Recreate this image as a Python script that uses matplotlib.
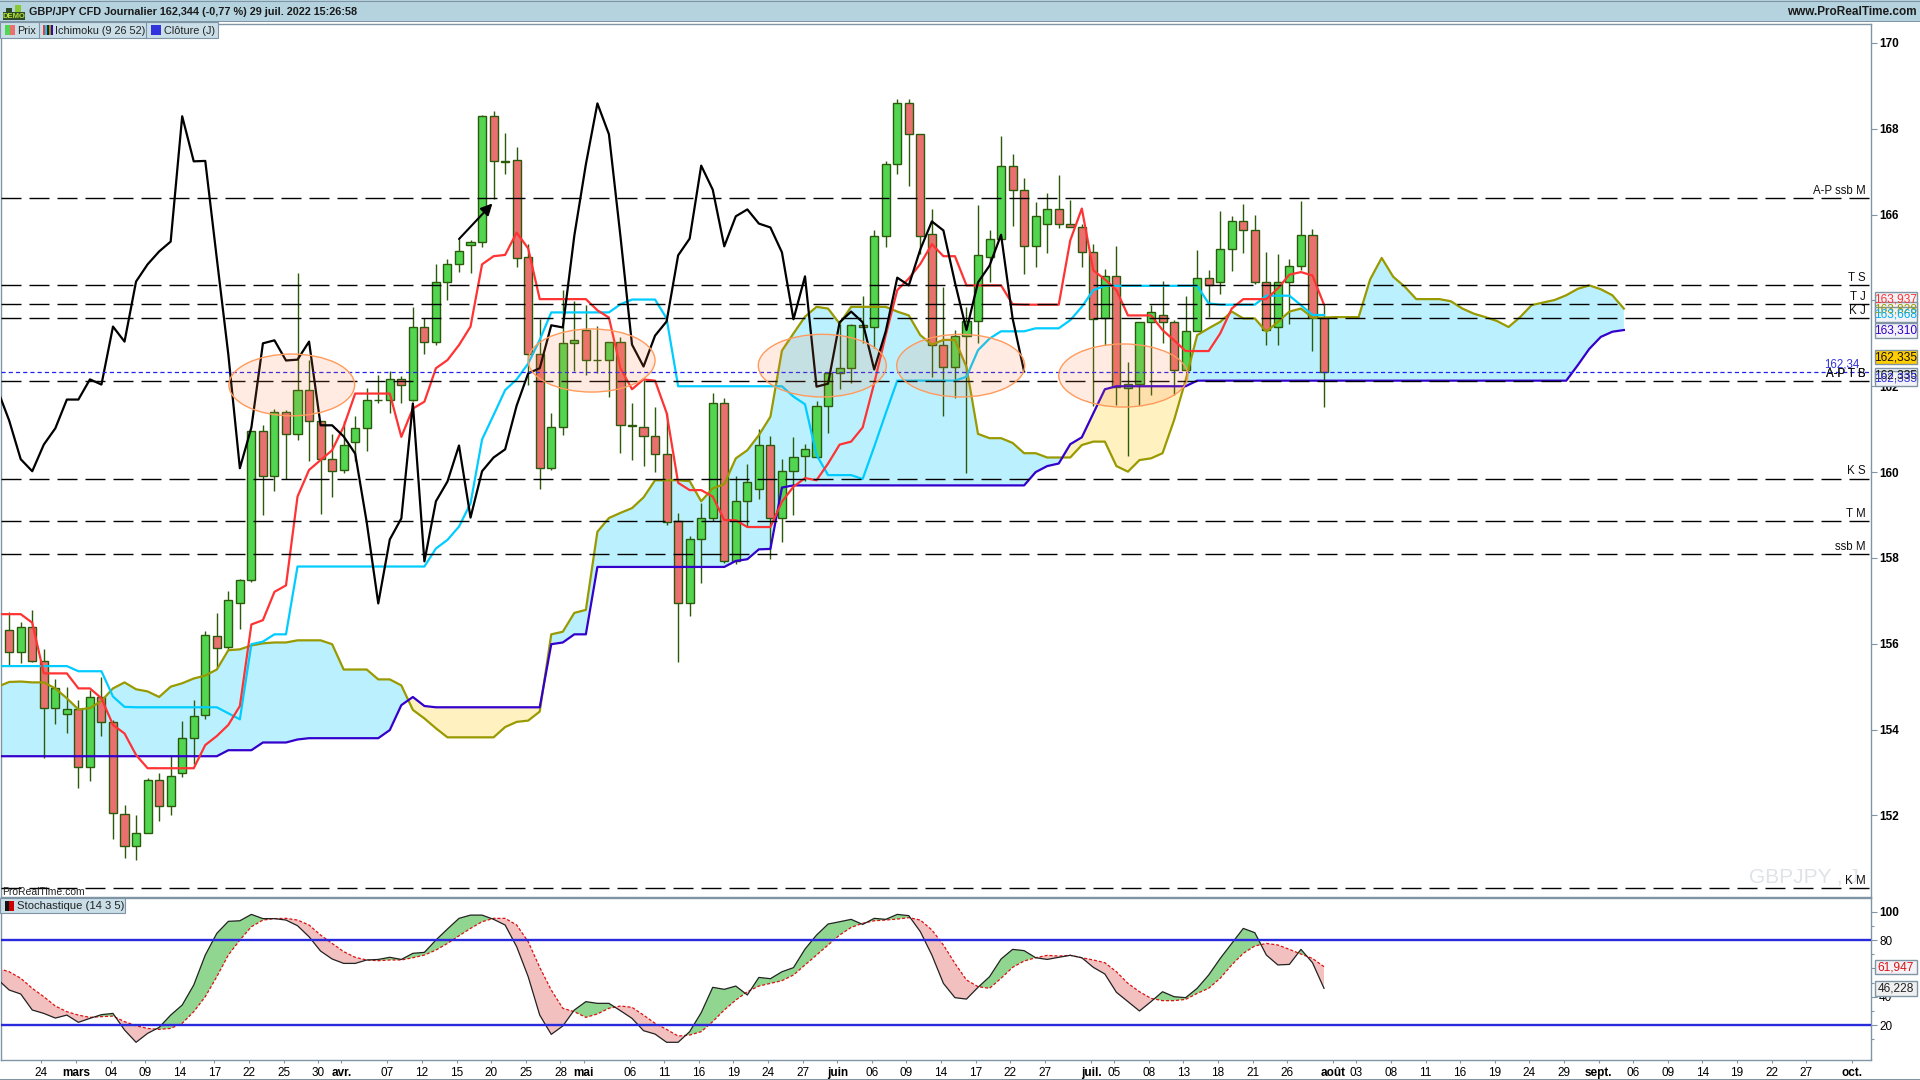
import numpy as np
import matplotlib
matplotlib.use('Agg')
import matplotlib.pyplot as plt
from matplotlib.patches import Ellipse, Rectangle

plt.rcParams['font.family'] = ['Liberation Sans', 'DejaVu Sans']
plt.rcParams['lines.scale_dashes'] = False

# daily candles, 21 feb -> 29 juil 2022 (bar index = weekdays)
opens = [156.31, 155.80, 156.38, 155.61, 154.50, 154.36, 154.47, 153.14, 154.75, 154.17,
         152.03, 151.28, 151.58, 152.82, 152.21, 153.00, 153.80, 154.33, 156.17, 155.92,
         156.96, 157.48, 160.95, 159.92, 161.41, 160.88, 161.91, 161.18, 160.30, 160.04,
         160.71, 161.02, 161.67, 161.69, 162.16, 161.69, 163.39, 163.04, 164.44, 164.84,
         165.30, 165.37, 168.29, 167.23, 167.26, 165.00, 162.74, 160.09, 161.04, 163.00,
         163.32, 162.60, 162.62, 163.04, 161.07, 161.06, 160.83, 160.43, 158.85, 156.94,
         158.43, 158.92, 161.60, 157.92, 159.32, 159.60, 160.62, 158.92, 160.02, 160.37,
         160.34, 161.55, 162.30, 162.42, 163.42, 163.39, 165.51, 167.17, 168.59, 167.87,
         165.54, 162.97, 162.46, 163.18, 163.51, 165.00, 165.44, 167.14, 166.58, 165.26,
         165.77, 166.12, 165.79, 165.70, 165.12, 163.60, 164.56, 161.97, 162.06, 163.49,
         163.65, 163.49, 162.39, 163.28, 164.53, 164.42, 165.19, 165.84, 165.63, 164.42,
         163.39, 164.42, 164.81, 165.53, 163.58]
closes = [155.80, 156.38, 155.61, 154.50, 154.96, 154.47, 153.14, 154.75, 154.17, 152.05,
          151.28, 151.58, 152.82, 152.21, 152.91, 153.80, 154.31, 156.20, 155.89, 157.03,
          157.48, 160.95, 159.92, 161.41, 160.88, 161.91, 161.20, 160.30, 160.02, 160.64,
          161.02, 161.69, 161.69, 162.16, 162.04, 163.39, 163.04, 164.44, 164.84, 165.14,
          165.37, 168.29, 167.24, 167.25, 164.98, 162.74, 160.09, 161.04, 163.00, 163.07,
          162.60, 162.62, 163.04, 161.09, 161.09, 160.83, 160.43, 158.83, 156.94, 158.43,
          158.92, 161.60, 157.92, 159.32, 159.78, 160.62, 158.94, 160.02, 160.34, 160.53,
          161.55, 162.30, 162.42, 163.42, 163.37, 165.51, 167.17, 168.59, 167.87, 165.49,
          162.97, 162.46, 163.18, 163.51, 165.05, 165.44, 167.14, 166.58, 165.26, 165.96,
          166.12, 165.79, 165.70, 165.12, 163.56, 164.56, 161.99, 162.06, 163.49, 163.74,
          163.49, 162.39, 163.28, 164.53, 164.35, 165.19, 165.84, 165.63, 164.42, 163.31,
          164.42, 164.81, 165.53, 163.58, 162.34]
highs = [156.75, 156.51, 156.79, 155.88, 155.18, 154.99, 154.69, 154.92, 155.23, 154.22,
         152.24, 152.01, 152.87, 152.98, 153.41, 154.20, 154.69, 156.29, 156.72, 157.23,
         157.51, 160.95, 161.10, 161.48, 161.45, 164.64, 162.61, 161.20, 160.88, 161.18,
         161.30, 161.95, 162.26, 162.35, 162.24, 163.84, 163.60, 164.85, 164.96, 165.44,
         165.40, 168.32, 168.41, 167.90, 167.57, 165.31, 163.56, 161.37, 164.24, 163.98,
         163.89, 163.40, 163.04, 163.15, 161.60, 162.14, 161.51, 161.37, 159.04, 158.51,
         159.28, 161.84, 161.72, 159.90, 160.19, 161.00, 160.84, 160.30, 160.82, 160.65,
         161.65, 162.34, 163.46, 163.44, 164.10, 165.65, 167.24, 168.69, 168.70, 167.87,
         166.13, 164.32, 163.31, 163.84, 166.22, 165.64, 167.83, 167.42, 166.86, 166.29,
         166.51, 166.92, 166.33, 165.79, 165.31, 164.73, 165.26, 162.56, 163.49, 163.90,
         164.45, 163.54, 164.10, 165.17, 164.70, 166.08, 165.96, 166.24, 165.99, 165.12,
         165.08, 164.96, 166.31, 165.67, 163.90]
lows = [155.48, 155.56, 155.58, 153.35, 154.14, 153.93, 152.65, 152.81, 153.86, 151.46,
        151.02, 150.97, 151.58, 151.88, 152.00, 152.90, 153.21, 154.24, 155.43, 155.87,
        156.35, 157.45, 159.01, 159.57, 159.83, 160.75, 160.25, 159.03, 159.43, 159.99,
        160.26, 160.50, 161.60, 161.38, 161.62, 161.65, 162.76, 162.97, 164.01, 164.67,
        164.63, 165.25, 166.37, 166.95, 164.78, 162.03, 159.61, 160.05, 160.86, 162.36,
        162.26, 162.31, 161.75, 160.45, 160.29, 160.15, 160.01, 158.77, 155.58, 156.65,
        157.42, 158.87, 157.89, 157.87, 158.73, 159.38, 157.98, 158.38, 159.01, 159.80,
        160.32, 160.92, 161.94, 162.08, 163.00, 162.90, 165.25, 166.95, 166.67, 165.09,
        162.22, 161.31, 161.72, 159.99, 163.00, 164.43, 165.44, 165.74, 164.62, 164.78,
        165.11, 165.69, 165.70, 164.77, 161.54, 162.96, 161.56, 160.38, 161.56, 161.79,
        163.01, 161.79, 162.39, 163.28, 163.62, 164.16, 164.69, 165.11, 164.39, 162.96,
        162.96, 163.45, 164.72, 162.83, 161.52]

# ichimoku, first value sits one bar left of the first candle (left edge of the panel)
tenkan = [156.69, 156.69, 156.69, 156.49, 155.31, 155.31, 155.31, 154.96, 154.96, 154.73, 154.11,
          153.91, 153.41, 153.10, 153.10, 153.10, 153.10, 153.10, 153.64, 153.85, 154.11,
          154.55, 156.45, 156.55, 157.21, 157.36, 159.43, 160.05, 160.28, 160.51, 161.06,
          161.83, 161.83, 161.83, 161.83, 160.82, 161.48, 161.64, 162.42, 162.61, 162.96,
          163.39, 164.84, 165.03, 165.06, 165.58, 165.21, 164.03, 164.03, 164.03, 164.03,
          164.03, 163.77, 163.60, 162.42, 161.93, 162.16, 162.13, 161.38, 159.75, 159.58,
          159.58, 159.43, 158.88, 158.88, 158.72, 158.72, 158.72, 159.31, 159.66, 159.86,
          159.81, 160.20, 160.64, 160.71, 161.04, 162.07, 163.19, 164.24, 164.51, 164.85,
          165.31, 165.03, 165.03, 164.35, 164.35, 164.35, 164.35, 163.91, 163.90, 163.90,
          163.90, 163.90, 165.40, 166.14, 164.70, 164.49, 164.24, 163.65, 163.65, 163.65,
          163.31, 163.07, 162.82, 162.82, 162.82, 163.23, 163.81, 164.03, 164.03, 164.03,
          164.28, 164.60, 164.66, 164.58, 163.90]
kijun = [155.48, 155.48, 155.48, 155.48, 155.48, 155.48, 155.48, 155.36, 155.36, 155.36, 154.77,
         154.53, 154.52, 154.52, 154.52, 154.52, 154.52, 154.52, 154.52, 154.52, 154.38,
         154.24, 155.99, 156.05, 156.22, 156.22, 157.80, 157.80, 157.80, 157.80, 157.80,
         157.80, 157.80, 157.80, 157.80, 157.80, 157.80, 157.80, 158.22, 158.42, 158.73,
         159.27, 160.76, 161.33, 161.91, 162.16, 162.53, 163.08, 163.72, 163.72, 163.72,
         163.72, 163.72, 163.72, 163.91, 164.02, 164.02, 164.02, 163.58, 162.00, 162.00,
         162.00, 162.00, 162.00, 162.00, 162.00, 162.00, 162.00, 162.00, 161.76, 161.58,
         160.40, 159.93, 159.93, 159.93, 159.84, 160.59, 161.37, 162.13, 162.13, 162.13,
         162.13, 162.13, 162.13, 162.22, 162.84, 163.11, 163.28, 163.28, 163.28, 163.35,
         163.35, 163.35, 163.54, 163.85, 164.24, 164.34, 164.34, 164.34, 164.34, 164.34,
         164.34, 164.34, 164.34, 164.34, 163.93, 163.90, 163.90, 163.90, 163.90, 164.11,
         164.11, 164.11, 163.89, 163.66, 163.66]
ssa = [155.00, 155.11, 155.12, 155.10, 155.10, 154.96, 154.73, 154.47, 154.50, 154.67, 154.96,
       155.10, 154.94, 154.89, 154.76, 155.00, 155.08, 155.19, 155.26, 155.40, 155.85,
       155.87, 155.96, 156.01, 156.03, 156.03, 156.08, 156.08, 156.08, 155.99, 155.40,
       155.40, 155.40, 155.17, 155.17, 155.03, 154.46, 154.26, 154.03, 153.82, 153.82,
       153.82, 153.82, 153.82, 154.06, 154.18, 154.21, 154.42, 156.22, 156.28, 156.72,
       156.79, 158.61, 158.93, 159.05, 159.16, 159.41, 159.81, 159.81, 159.81, 159.79,
       159.32, 159.62, 159.72, 160.32, 160.51, 160.86, 161.29, 162.83, 163.23, 163.62,
       163.85, 163.81, 163.46, 163.85, 163.85, 163.85, 163.85, 163.74, 163.65, 163.19,
       162.97, 163.08, 163.08, 162.45, 160.89, 160.79, 160.79, 160.68, 160.44, 160.44,
       160.34, 160.34, 160.34, 160.63, 160.71, 160.71, 160.14, 160.01, 160.28, 160.32,
       160.44, 161.21, 162.14, 163.19, 163.35, 163.50, 163.74, 163.58, 163.58, 163.27,
       163.50, 163.74, 163.81, 163.60, 163.60, 163.61, 163.61, 163.61, 164.49, 164.99,
       164.55, 164.32, 164.03, 164.03, 164.03, 163.98, 163.81, 163.69, 163.61, 163.52,
       163.38, 163.61, 163.89, 163.95, 164.01, 164.12, 164.27, 164.35, 164.26, 164.12,
       163.81]
ssb = [153.38, 153.38, 153.38, 153.38, 153.38, 153.38, 153.38, 153.38, 153.38, 153.38, 153.38,
       153.38, 153.38, 153.38, 153.38, 153.38, 153.38, 153.38, 153.38, 153.38, 153.52,
       153.52, 153.52, 153.70, 153.70, 153.70, 153.77, 153.80, 153.80, 153.80, 153.80,
       153.80, 153.80, 153.80, 153.99, 154.57, 154.76, 154.55, 154.52, 154.52, 154.52,
       154.52, 154.52, 154.52, 154.52, 154.52, 154.52, 154.52, 155.99, 156.03, 156.22,
       156.22, 157.79, 157.79, 157.79, 157.79, 157.79, 157.79, 157.79, 157.79, 157.79,
       157.79, 157.79, 157.79, 157.93, 157.97, 158.20, 158.21, 159.64, 159.69, 159.69,
       159.69, 159.69, 159.69, 159.69, 159.69, 159.69, 159.69, 159.69, 159.69, 159.69,
       159.69, 159.69, 159.69, 159.69, 159.69, 159.69, 159.69, 159.69, 159.69, 160.00,
       160.14, 160.20, 160.65, 160.81, 161.37, 161.93, 162.00, 162.00, 162.00, 162.00,
       162.00, 162.00, 162.00, 162.13, 162.13, 162.13, 162.13, 162.13, 162.13, 162.13,
       162.13, 162.13, 162.13, 162.13, 162.13, 162.13, 162.13, 162.13, 162.13, 162.13,
       162.13, 162.13, 162.13, 162.13, 162.13, 162.13, 162.13, 162.13, 162.13, 162.13,
       162.13, 162.13, 162.13, 162.13, 162.13, 162.13, 162.49, 162.87, 163.15, 163.27,
       163.31]

# stochastic, same leading value as ichimoku
stoch_k = [52.2, 44.7, 41.9, 30.6, 28.2, 24.9, 27.0, 21.9, 24.7, 27.3, 28.2,
           16.5, 7.8, 14.1, 18.3, 27.0, 34.1, 48.2, 69.4, 84.7, 93.2,
           93.6, 98.1, 95.1, 95.1, 94.1, 90.1, 82.3, 72.2, 66.6, 63.5,
           63.5, 65.9, 66.3, 67.8, 66.3, 70.6, 71.3, 80.0, 87.8, 95.3,
           97.6, 97.6, 94.6, 90.6, 75.3, 54.1, 27.0, 13.4, 19.3, 30.6,
           36.5, 35.3, 35.3, 30.1, 24.7, 16.0, 13.6, 7.8, 7.8, 15.3,
           28.7, 46.6, 45.2, 47.5, 41.2, 53.6, 52.7, 57.6, 60.5, 73.6,
           83.5, 91.3, 92.9, 94.6, 91.0, 95.3, 94.6, 98.1, 97.2, 85.9,
           69.4, 49.4, 39.3, 38.3, 46.6, 54.1, 66.6, 73.4, 72.5, 67.5,
           66.3, 67.8, 69.2, 67.5, 60.7, 56.0, 43.1, 36.5, 29.9, 36.5,
           43.5, 40.0, 39.3, 45.9, 55.3, 67.0, 77.6, 88.2, 85.2, 69.4,
           62.4, 62.8, 73.4, 64.0, 45.9]
stoch_d = [60.0, 57.6, 53.0, 45.9, 40.0, 33.4, 29.4, 27.0, 25.4, 25.9, 26.3,
           22.4, 19.5, 17.6, 16.9, 17.6, 21.2, 29.4, 40.0, 54.1, 69.4,
           80.0, 89.4, 94.1, 95.1, 95.3, 94.1, 90.6, 83.5, 77.6, 71.8,
           67.8, 65.9, 65.4, 65.9, 65.9, 67.5, 69.4, 72.9, 77.6, 83.0,
           88.2, 92.9, 95.3, 95.3, 90.6, 78.8, 60.7, 44.7, 31.8, 29.4,
           25.4, 27.8, 31.8, 33.4, 32.5, 27.0, 21.2, 16.9, 12.2, 12.9,
           15.3, 22.4, 30.6, 37.6, 43.5, 47.5, 49.4, 51.3, 55.3, 62.4,
           69.4, 76.5, 83.5, 88.9, 91.8, 93.6, 94.1, 94.8, 95.8, 94.1,
           87.1, 76.5, 63.5, 51.8, 47.1, 45.9, 53.0, 60.7, 65.2, 67.5,
           69.2, 68.7, 69.2, 67.5, 65.9, 64.0, 57.6, 49.4, 43.5, 38.8,
           37.2, 37.2, 38.1, 42.3, 45.9, 53.0, 62.4, 70.6, 75.8, 77.6,
           76.5, 73.4, 70.1, 67.0, 61.2]

# horizontal levels and their labels
levels = [166.38, 164.35, 163.91, 163.58, 162.13, 159.85, 158.85, 158.08, 150.30]
level_names = ['A-P ssb M', 'T S', 'T J', 'K J', 'A-P T B', 'K S', 'T M', 'ssb M', 'K M']
last_price = 162.34

# ellipses: centre bar, centre price, width in bars, height in price
ell_x = [24.5, 50.5, 70.5, 82.5, 96.6]
ell_y = [162.03, 162.60, 162.48, 162.48, 162.25]
ell_w = [10.9, 11.0, 11.1, 11.1, 11.2]
ell_h = [1.44, 1.47, 1.46, 1.46, 1.47]

tick_pos = [3, 6, 9, 12, 15, 18, 21, 24, 27, 29, 33, 36, 39, 42, 45, 48, 50, 54, 57, 60, 63, 66, 69,
            72, 75, 78, 81, 84, 87, 90, 94, 96, 99, 102, 105, 108, 111, 115, 117, 120, 123, 126,
            129, 132, 135, 138, 141, 144, 147, 150, 153, 156, 160]
tick_labels = ['24', 'mars', '04', '09', '14', '17', '22', '25', '30', 'avr.', '07', '12', '15', '20',
               '25', '28', 'mai', '06', '11', '16', '19', '24', '27', 'juin', '06', '09', '14', '17',
               '22', '27', 'juil.', '05', '08', '13', '18', '21', '26', 'août', '03', '08', '11', '16',
               '19', '24', '29', 'sept.', '06', '09', '14', '19', '22', '27', 'oct.']
months = ['mars', 'avr.', 'mai', 'juin', 'juil.', 'août', 'sept.', 'oct.']

FRAME = '#7F95A5'
WICK = '#2A5A0A'
GREEN = '#52D652'
RED = '#EA7070'

fig = plt.figure(figsize=(19.2, 10.8), dpi=100, facecolor='white')
W, H = 1920.0, 1080.0
XLIM = (-0.71, 161.4)

ax = fig.add_axes([1 / W, (H - 897) / H, 1869.7 / W, 873 / H])
ax2 = fig.add_axes([1 / W, (H - 1060) / H, 1869.7 / W, 162 / H])

# --- price panel
bars = np.arange(len(closes))
o, c, h, l = map(np.array, (opens, closes, highs, lows))
up = c >= o
ax.vlines(bars, l, h, color=WICK, lw=1.0, zorder=2)
ax.bar(bars, np.abs(c - o), bottom=np.minimum(o, c), width=0.7,
       color=[GREEN if u else RED for u in up], edgecolor=WICK, linewidth=1.0, zorder=3)

cloud_x = np.arange(-1, len(ssa) - 1)
a, b = np.array(ssa), np.array(ssb)
ax.fill_between(cloud_x, a, b, where=a >= b, interpolate=True, color='#BBF1FF', lw=0, zorder=1)
ax.fill_between(cloud_x, a, b, where=a < b, interpolate=True, color='#FFF2C0', lw=0, zorder=1)
ax.plot(cloud_x, a, color='#999900', lw=1.6, zorder=4)
ax.plot(cloud_x, b, color='#3300CC', lw=1.6, zorder=4)
ax.plot(np.arange(-1, len(kijun) - 1), kijun, color='#00CCFF', lw=1.6, zorder=4)
ax.plot(np.arange(-1, len(tenkan) - 1), tenkan, color='#FF3333', lw=1.6, zorder=4)
chikou = closes[25:]
ax.plot(np.arange(-1, len(chikou) - 1), chikou, color='black', lw=1.6, zorder=5)

for y in levels:
    ax.plot(XLIM, [y, y], color='black', lw=1.0, dashes=(14.4, 5.76), zorder=6)
ax.plot(XLIM, [last_price, last_price], color='#2222EE', lw=0.9, dashes=(3.0, 2.2), zorder=6)

for ex, ey, ew, eh in zip(ell_x, ell_y, ell_w, ell_h):
    ax.add_patch(Ellipse((ex, ey), ew, eh, facecolor='#FF7F3F', alpha=0.15, edgecolor='none', zorder=7))
    ax.add_patch(Ellipse((ex, ey), ew, eh, facecolor='none', edgecolor='#FF9A5C', lw=1.0, zorder=7))

ax.annotate('', xy=(41.9, 166.26), xytext=(39.0, 165.43), zorder=8,
            arrowprops=dict(arrowstyle='-|>', color='black', lw=1.5, mutation_scale=17, shrinkA=0, shrinkB=0))

for y, name in zip(levels, level_names):
    ax.text(160.95, y + 0.025, name, ha='right', va='bottom', fontsize=8.3, color='#111111', zorder=8)
ax.text(160.95, 162.13 + 0.025, 'A-P T S', ha='right', va='bottom', fontsize=8.3, color='#111111', zorder=8)
ax.text(160.4, last_price + 0.02, '162,34', ha='right', va='bottom', fontsize=8.3, color='#3333DD', zorder=8)
ax.text(160.4, 150.35, 'GBPJPY , J', ha='right', va='bottom', fontsize=15, color='#DFE3E8', zorder=1)

ax.set_xlim(XLIM)
ax.set_ylim(150.10, 170.44)
ax.set_xticks([])
ax.yaxis.tick_right()
ax.set_yticks(np.arange(152, 171, 2))
ax.set_yticklabels(['152', '154', '156', '158', '160', '162', '164', '166', '168', '170'],
                   fontsize=8.5, fontweight='bold')
ax.tick_params(axis='y', length=4, width=0.8, color=FRAME, pad=2)

# --- stochastic panel
sx = np.arange(-1, len(stoch_k) - 1)
k, d = np.array(stoch_k), np.array(stoch_d)
ax2.fill_between(sx, k, d, where=k >= d, interpolate=True, color='#90D690', lw=0, zorder=1)
ax2.fill_between(sx, k, d, where=k < d, interpolate=True, color='#F3C0C0', lw=0, zorder=1)
ax2.plot(sx, d, color='#DD1111', lw=0.9, dashes=(2.2, 1.4), zorder=2)
ax2.plot(sx, k, color='#222222', lw=0.9, zorder=3)
ax2.axhline(80, color='#2A2ADD', lw=1.7, zorder=4)
ax2.axhline(20, color='#2A2ADD', lw=1.7, zorder=4)
ax2.set_xlim(XLIM)
ax2.set_ylim(-4.7, 109.67)
ax2.yaxis.tick_right()
ax2.set_yticks([20, 40, 60, 80, 100])
ax2.set_yticklabels(['20', '40', '60', '80', '100'], fontsize=8.5)
ax2.get_yticklabels()[-1].set_fontweight('bold')
ax2.set_yticks([10, 30, 50, 70, 90], minor=True)
ax2.tick_params(axis='y', which='major', length=4, width=0.8, color=FRAME, pad=2)
ax2.tick_params(axis='y', which='minor', length=2, width=0.8, color=FRAME)
ax2.set_xticks(np.array(tick_pos) - 0.2)
ax2.set_xticklabels(tick_labels, fontsize=8.5)
for lab in ax2.get_xticklabels():
    if lab.get_text() in months:
        lab.set_fontweight('bold')
ax2.tick_params(axis='x', length=2, width=0.8, color=FRAME, pad=3)

for a_ in (ax, ax2):
    for s in a_.spines.values():
        s.set_color(FRAME)
        s.set_linewidth(1.0)

# --- window chrome, in screen pixels
ov = fig.add_axes([0, 0, 1, 1], facecolor='none')
ov.set_xlim(0, W)
ov.set_ylim(H, 0)
ov.axis('off')


def rect(x0, y0, x1, y1, face, edge='none', lw=0.8, z=10):
    ov.add_patch(Rectangle((x0, y0), x1 - x0, y1 - y0, facecolor=face, edgecolor=edge, linewidth=lw, zorder=z))


def value_box(y0, y1, label, color, face='#F3F3F7'):
    rect(1875, y0, 1917, y1, face, FRAME, 1.0, 12)
    ov.text(1896, (y0 + y1) / 2, label, ha='center', va='center', fontsize=8.6, color=color, zorder=13)


rect(0, 0, W, 21, '#B5D3DF')
rect(0, 21, W, 22, FRAME)
ov.plot([0, W], [0.5, 0.5], color=FRAME, lw=0.8, zorder=11)
rect(0, 22, 218, 38, '#C9DEE7', FRAME)
ov.plot([39, 39], [22, 38], color=FRAME, lw=0.8, zorder=11)
ov.plot([146, 146], [22, 38], color=FRAME, lw=0.8, zorder=11)

# demo icon
rect(3, 12, 25, 20, '#2F4A2A', z=11)
rect(15, 5, 21, 12, '#88C830', z=11)
rect(6, 8, 12, 12, '#2F4A2A', z=11)
ov.text(14, 16, 'DEMO', ha='center', va='center', fontsize=5.5, color='#B8E830', fontweight='bold', zorder=12)

ov.text(29, 12, 'GBP/JPY CFD Journalier 162,344 (-0,77 %) 29 juil. 2022 15:26:58', ha='left', va='center',
        fontsize=7.8, fontweight='bold', color='#1A1A1A', zorder=12)
ov.text(1917, 12, 'www.ProRealTime.com', ha='right', va='center', fontsize=8.5, fontweight='bold',
        color='#1A1A1A', zorder=12)

rect(5, 25, 10, 35, '#52D652', z=11)
rect(10, 25, 15, 35, '#EA7070', z=11)
ov.text(17, 30.5, 'Prix', ha='left', va='center', fontsize=7.8, color='#222222', zorder=12)
for i, col in enumerate(['#FF3333', '#00CCFF', '#222222', '#999900', '#3300CC']):
    rect(43 + 2 * i, 25, 45 + 2 * i, 35, col, z=11)
ov.text(55, 30.5, 'Ichimoku (9 26 52)', ha='left', va='center', fontsize=7.8, color='#222222', zorder=12)
rect(151, 25, 161, 35, '#3333DD', z=11)
ov.text(164, 30.5, 'Clôture (J)', ha='left', va='center', fontsize=7.8, color='#222222', zorder=12)

ov.text(2, 892, 'ProRealTime.com', ha='left', va='center', fontsize=7.5, color='#222222', zorder=12)
rect(0, 898, 125, 913, '#C9DEE7', FRAME)
rect(5, 901, 9, 911, '#111111', z=11)
rect(9, 901, 14, 911, '#CC0000', z=11)
ov.text(17, 906, 'Stochastique (14 3 5)', ha='left', va='center', fontsize=8.1, color='#222222', zorder=12)

rect(0, 1079, W, 1080, FRAME)

value_box(292, 306, '163,937', '#FF3333')
value_box(302, 316, '163,828', '#999900')
value_box(307, 322, '163,668', '#00AEEF')
value_box(323, 338, '163,310', '#3300CC')
value_box(350, 364, '162,335', '#111111', '#FFCC00')
value_box(368, 382, '162,335', '#111111')
value_box(371, 386, '162,335', '#3333DD')
value_box(960, 974, '61,947', '#DD1111')
value_box(981, 996, '46,228', '#222222', '#F0F0F0')

fig.savefig('out.png', dpi=100)
